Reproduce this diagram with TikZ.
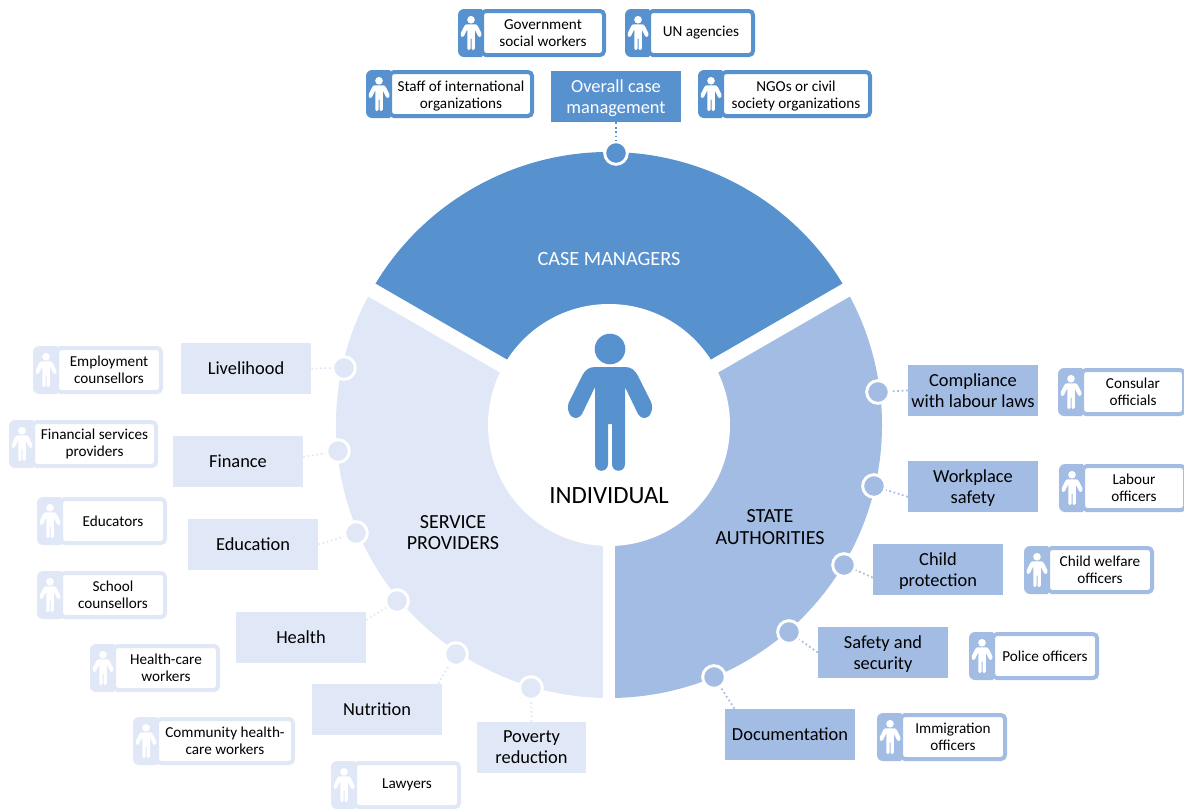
\documentclass[tikz,border=0pt]{standalone}
\usepackage{fontspec}
\setmainfont{Carlito}

\definecolor{casecol}{HTML}{5792CF}
\definecolor{statecol}{HTML}{A3BCE3}
\definecolor{servicecol}{HTML}{E0E7F6}

\newcommand{\droparea}{\rule{0pt}{12.6pt}}
\newcommand{\droprole}{\rule{0pt}{11pt}}

\tikzset{
    areabox/.style={fill=#1, minimum width=97.5pt, minimum height=38.5pt, inner sep=0pt, align=center, font=\fontsize{13.8pt}{15.8pt}\selectfont},
    rolebox/.style={draw=#1, fill=white, line width=3pt, rounded corners=3pt, inner sep=0pt, outer sep=0pt, minimum height=33pt, align=center, font=\fontsize{11.4pt}{12.8pt}\selectfont},
    spot/.style={circle, fill=#1, draw=white, line width=2.2pt, minimum size=17pt, inner sep=0pt},
    link/.style={draw=#1, line width=1.3pt, dotted},
    pics/person/.style={code={
        \fill (0,53) circle (15.3);
        \fill (-15,35) -- (15,35) .. controls (21,35) and (25,32) .. (28,26) -- (41,0) .. controls (44,-7) and (40,-16) .. (35,-16) .. controls (31,-16) and (30,-14) .. (28,-12) -- (15,15) -- (15,-62) .. controls (15,-71) and (2,-71) .. (2,-62) -- (2,-22) -- (-2,-22) -- (-2,-62) .. controls (-2,-71) and (-15,-71) .. (-15,-62) -- (-15,15) -- (-28,-12) .. controls (-30,-14) and (-31,-16) .. (-35,-16) .. controls (-40,-16) and (-44,-7) .. (-41,0) -- (-28,26) .. controls (-25,32) and (-21,35) .. (-15,35) -- cycle;
    }}
}

% name, colour, left, right, top, text
\newcommand{\rolecard}[6]{
    \node[rolebox=#2, minimum width={(#4-#3-26)*0.75pt}] (#1) at ({(#3+#4+22)/2},{-#5-24}) {#6};
    \fill[#2] ([yshift=1.5pt]#1.north west) [rounded corners=4.5pt] -- ++(-24,0) -- ++(0,-48) [sharp corners] -- ++(24,0) -- cycle;
    \pic[white, scale=0.25] at ({#3+13},{-#5-24}) {person};
}

\begin{document}
\begin{tikzpicture}[x=0.75pt, y=0.75pt]
    \clip (0,-808) rectangle (1184,0);
    \useasboundingbox (0,-808) rectangle (1184,0);

    \begin{scope}[shift={(609,-425)}]
        \fill[casecol] (0,0) -- (30:273) arc (30:150:273) -- cycle;
        \fill[statecol] (0,0) -- (-90:273) arc (-90:30:273) -- cycle;
        \fill[servicecol] (0,0) -- (150:273) arc (150:270:273) -- cycle;
        \draw[white, line width=11pt] (0,-2) -- ++(30:290);
        \draw[white, line width=11pt] (0,-2) -- ++(150:290);
        \draw[white, line width=9pt] (0,0) -- (0,-290);
        \fill[white] (0,0) circle (121);
    \end{scope}

    \pic[casecol] at (610,-402) {person};
    \node[font=\fontsize{18.6pt}{20pt}\selectfont] (individual) at (609,-496) {INDIVIDUAL};
    \node[white, font=\fontsize{15.2pt}{16.3pt}\selectfont] (casemanagers) at (609,-258.5) {CASE MANAGERS};
    \node[align=center, font=\fontsize{15pt}{16.3pt}\selectfont] (serviceproviders) at (453,-532.5) {SERVICE\\PROVIDERS};
    \node[align=center, font=\fontsize{15pt}{16.3pt}\selectfont] (stateauthorities) at (770,-527) {STATE\\AUTHORITIES};

    \node[areabox=casecol, text=white] (overall) at (616,-96.5) {\droparea Overall case\\management};

    \node[areabox=statecol] (compliance) at (973,-390.5) {Compliance\\with labour laws};
    \node[areabox=statecol] (workplace) at (973,-486.5) {\droparea Workplace\\safety};
    \node[areabox=statecol] (childprot) at (938,-569.5) {\droparea Child\\protection};
    \node[areabox=statecol] (safety) at (883,-652.5) {\droparea Safety and\\security};
    \node[areabox=statecol] (documentation) at (790,-734.5) {Documentation};

    \node[areabox=servicecol] (livelihood) at (246,-368.5) {Livelihood};
    \node[areabox=servicecol] (finance) at (238,-461.5) {Finance};
    \node[areabox=servicecol] (education) at (253,-544.5) {Education};
    \node[areabox=servicecol] (health) at (301,-637.5) {Health};
    \node[areabox=servicecol] (nutrition) at (377,-709.5) {Nutrition};
    \node[areabox=servicecol, minimum width=82pt] (poverty) at (531.5,-747.5) {Poverty\\reduction};

    \node[spot=casecol] (overalldot) at (616,-153) {};
    \node[spot=statecol] (compliancedot) at (878,-392) {};
    \node[spot=statecol] (workplacedot) at (874,-486) {};
    \node[spot=statecol] (childprotdot) at (844,-565) {};
    \node[spot=statecol] (safetydot) at (789,-632) {};
    \node[spot=statecol] (documentationdot) at (714,-677) {};
    \node[spot=servicecol] (livelihooddot) at (344,-368) {};
    \node[spot=servicecol] (financedot) at (338,-451) {};
    \node[spot=servicecol] (educationdot) at (356,-533) {};
    \node[spot=servicecol] (healthdot) at (397,-601) {};
    \node[spot=servicecol] (nutritiondot) at (456,-654) {};
    \node[spot=servicecol] (povertydot) at (531,-688) {};

    \draw[link=casecol] (overall) -- (overalldot);
    \draw[link=statecol] (compliance.west) -- (compliancedot);
    \draw[link=statecol] (workplace.189) -- (workplacedot);
    \draw[link=statecol] (childprot.187) -- (childprotdot);
    \draw[link=statecol] (safety.west) -- (safetydot);
    \draw[link=statecol] (documentation.155) -- (documentationdot);
    \draw[link=servicecol] (livelihood.east) -- (livelihooddot);
    \draw[link=servicecol] (finance.4) -- (financedot);
    \draw[link=servicecol] (education.east) -- (educationdot);
    \draw[link=servicecol] (health.15) -- (healthdot);
    \draw[link=servicecol] (nutrition.23) -- (nutritiondot);
    \draw[link=servicecol] (poverty.north) -- (povertydot);

    \rolecard{govworkers}{casecol}{458}{606}{9}{Government\\social workers}
    \rolecard{unagencies}{casecol}{625}{755}{9}{UN agencies}
    \rolecard{intlstaff}{casecol}{366}{534}{70}{\droprole Staff of international\\organizations}
    \rolecard{ngos}{casecol}{698}{872}{70}{\droprole NGOs or civil\\society organizations}

    \rolecard{consular}{statecol}{1058}{1186}{368}{Consular\\officials}
    \rolecard{labour}{statecol}{1059}{1187}{464}{Labour\\officers}
    \rolecard{childwelfare}{statecol}{1024}{1154}{546}{Child welfare\\officers}
    \rolecard{police}{statecol}{969}{1099}{632}{Police officers}
    \rolecard{immigration}{statecol}{877}{1007}{713}{Immigration\\officers}

    \rolecard{employment}{servicecol}{33}{163}{346}{Employment\\counsellors}
    \rolecard{financial}{servicecol}{9}{158}{420}{Financial services\\providers}
    \rolecard{educators}{servicecol}{37}{167}{497}{Educators}
    \rolecard{school}{servicecol}{37}{167}{571}{School\\counsellors}
    \rolecard{healthcare}{servicecol}{90}{220}{644}{Health-care\\workers}
    \rolecard{community}{servicecol}{133}{295}{717}{Community health-\\care workers}
    \rolecard{lawyers}{servicecol}{331}{461}{761}{Lawyers}
\end{tikzpicture}
\end{document}
